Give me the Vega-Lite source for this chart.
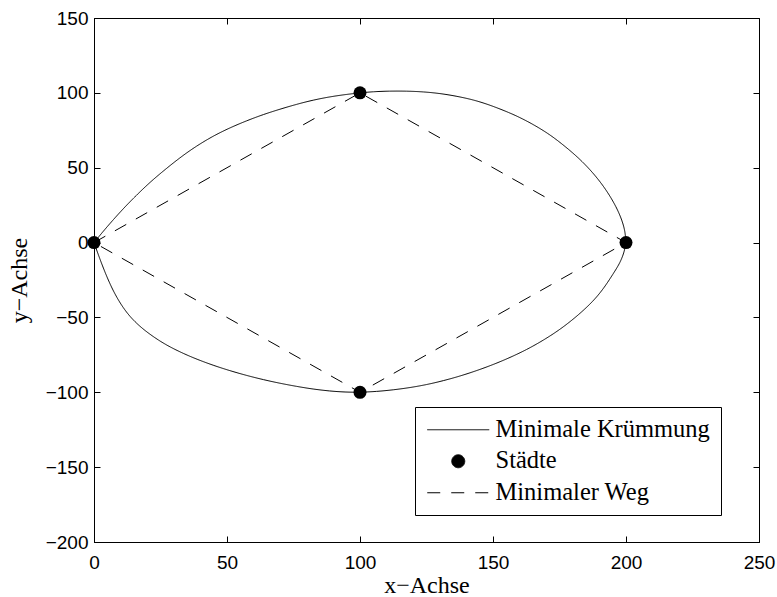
{
  "$schema": "https://vega.github.io/schema/vega-lite/v6.json",
  "autosize": {"type": "none"},
  "width": 665,
  "height": 524,
  "padding": {"left": 94, "top": 18, "right": 18, "bottom": 55},
  "background": "white",
  "config": {
    "view": {"stroke": "black", "strokeWidth": 1},
    "axis": {
      "domainColor": "black",
      "domainWidth": 1,
      "ticks": false,
      "grid": true,
      "gridColor": "black",
      "gridOpacity": 1,
      "gridWidth": 1,
      "labelColor": "black",
      "labelFont": "Liberation Sans",
      "labelFontSize": 19,
      "titleColor": "black",
      "titleFont": "Liberation Serif",
      "titleFontSize": 24,
      "titleFontWeight": "normal"
    }
  },
  "datasets": {
    "curve": [
      {"i": 0, "x": 0, "y": 0, "series": "Minimale Krümmung"},
      {"i": 1, "x": 3.5, "y": 7.6, "series": "Minimale Krümmung"},
      {"i": 2, "x": 7.3, "y": 15.4, "series": "Minimale Krümmung"},
      {"i": 3, "x": 11.6, "y": 23.8, "series": "Minimale Krümmung"},
      {"i": 4, "x": 16, "y": 31.7, "series": "Minimale Krümmung"},
      {"i": 5, "x": 20.4, "y": 39.2, "series": "Minimale Krümmung"},
      {"i": 6, "x": 24.8, "y": 46, "series": "Minimale Krümmung"},
      {"i": 7, "x": 32.3, "y": 56.8, "series": "Minimale Krümmung"},
      {"i": 8, "x": 38.6, "y": 64.6, "series": "Minimale Krümmung"},
      {"i": 9, "x": 44.8, "y": 71.2, "series": "Minimale Krümmung"},
      {"i": 10, "x": 51.1, "y": 76.7, "series": "Minimale Krümmung"},
      {"i": 11, "x": 57.4, "y": 81.4, "series": "Minimale Krümmung"},
      {"i": 12, "x": 63.7, "y": 85.6, "series": "Minimale Krümmung"},
      {"i": 13, "x": 69.9, "y": 89.1, "series": "Minimale Krümmung"},
      {"i": 14, "x": 76.2, "y": 92.4, "series": "Minimale Krümmung"},
      {"i": 15, "x": 82.4, "y": 95.2, "series": "Minimale Krümmung"},
      {"i": 16, "x": 88.7, "y": 97.4, "series": "Minimale Krümmung"},
      {"i": 17, "x": 95, "y": 99, "series": "Minimale Krümmung"},
      {"i": 18, "x": 100, "y": 100, "series": "Minimale Krümmung"},
      {"i": 19, "x": 105, "y": 100.8, "series": "Minimale Krümmung"},
      {"i": 20, "x": 111, "y": 101.2, "series": "Minimale Krümmung"},
      {"i": 21, "x": 117.6, "y": 101.2, "series": "Minimale Krümmung"},
      {"i": 22, "x": 124, "y": 100.7, "series": "Minimale Krümmung"},
      {"i": 23, "x": 130.1, "y": 99.6, "series": "Minimale Krümmung"},
      {"i": 24, "x": 136, "y": 97.9, "series": "Minimale Krümmung"},
      {"i": 25, "x": 142.6, "y": 95.4, "series": "Minimale Krümmung"},
      {"i": 26, "x": 149, "y": 91.8, "series": "Minimale Krümmung"},
      {"i": 27, "x": 156.4, "y": 86.6, "series": "Minimale Krümmung"},
      {"i": 28, "x": 161.2, "y": 82.6, "series": "Minimale Krümmung"},
      {"i": 29, "x": 165.8, "y": 78.2, "series": "Minimale Krümmung"},
      {"i": 30, "x": 170.6, "y": 73, "series": "Minimale Krümmung"},
      {"i": 31, "x": 175.2, "y": 67, "series": "Minimale Krümmung"},
      {"i": 32, "x": 182, "y": 57, "series": "Minimale Krümmung"},
      {"i": 33, "x": 187.7, "y": 46.5, "series": "Minimale Krümmung"},
      {"i": 34, "x": 192.5, "y": 35.5, "series": "Minimale Krümmung"},
      {"i": 35, "x": 196.5, "y": 23.5, "series": "Minimale Krümmung"},
      {"i": 36, "x": 198.7, "y": 14, "series": "Minimale Krümmung"},
      {"i": 37, "x": 199.7, "y": 7, "series": "Minimale Krümmung"},
      {"i": 38, "x": 200, "y": 0, "series": "Minimale Krümmung"},
      {"i": 39, "x": 199.4, "y": -6, "series": "Minimale Krümmung"},
      {"i": 40, "x": 197.8, "y": -13.5, "series": "Minimale Krümmung"},
      {"i": 41, "x": 195.2, "y": -20.8, "series": "Minimale Krümmung"},
      {"i": 42, "x": 191.8, "y": -30.2, "series": "Minimale Krümmung"},
      {"i": 43, "x": 187.7, "y": -39.2, "series": "Minimale Krümmung"},
      {"i": 44, "x": 181.6, "y": -49.2, "series": "Minimale Krümmung"},
      {"i": 45, "x": 175.2, "y": -58.1, "series": "Minimale Krümmung"},
      {"i": 46, "x": 168.9, "y": -65.3, "series": "Minimale Krümmung"},
      {"i": 47, "x": 162.7, "y": -71.5, "series": "Minimale Krümmung"},
      {"i": 48, "x": 156.4, "y": -76.8, "series": "Minimale Krümmung"},
      {"i": 49, "x": 150.1, "y": -81.5, "series": "Minimale Krümmung"},
      {"i": 50, "x": 143.8, "y": -85.6, "series": "Minimale Krümmung"},
      {"i": 51, "x": 137.6, "y": -89.2, "series": "Minimale Krümmung"},
      {"i": 52, "x": 131.3, "y": -92.3, "series": "Minimale Krümmung"},
      {"i": 53, "x": 125.1, "y": -94.9, "series": "Minimale Krümmung"},
      {"i": 54, "x": 118.8, "y": -96.9, "series": "Minimale Krümmung"},
      {"i": 55, "x": 112.5, "y": -98.4, "series": "Minimale Krümmung"},
      {"i": 56, "x": 106.2, "y": -99.5, "series": "Minimale Krümmung"},
      {"i": 57, "x": 100, "y": -100, "series": "Minimale Krümmung"},
      {"i": 58, "x": 94.4, "y": -99.9, "series": "Minimale Krümmung"},
      {"i": 59, "x": 88.7, "y": -99.2, "series": "Minimale Krümmung"},
      {"i": 60, "x": 82.4, "y": -97.9, "series": "Minimale Krümmung"},
      {"i": 61, "x": 76.2, "y": -96.1, "series": "Minimale Krümmung"},
      {"i": 62, "x": 69.9, "y": -94, "series": "Minimale Krümmung"},
      {"i": 63, "x": 63.7, "y": -91.6, "series": "Minimale Krümmung"},
      {"i": 64, "x": 57.4, "y": -88.8, "series": "Minimale Krümmung"},
      {"i": 65, "x": 51.1, "y": -85.6, "series": "Minimale Krümmung"},
      {"i": 66, "x": 44.8, "y": -82, "series": "Minimale Krümmung"},
      {"i": 67, "x": 38.6, "y": -77.9, "series": "Minimale Krümmung"},
      {"i": 68, "x": 33.6, "y": -74.1, "series": "Minimale Krümmung"},
      {"i": 69, "x": 28.6, "y": -69.8, "series": "Minimale Krümmung"},
      {"i": 70, "x": 24.2, "y": -65.2, "series": "Minimale Krümmung"},
      {"i": 71, "x": 19.8, "y": -59.7, "series": "Minimale Krümmung"},
      {"i": 72, "x": 16.5, "y": -54.8, "series": "Minimale Krümmung"},
      {"i": 73, "x": 13.5, "y": -49.4, "series": "Minimale Krümmung"},
      {"i": 74, "x": 11, "y": -43.6, "series": "Minimale Krümmung"},
      {"i": 75, "x": 8.6, "y": -36.8, "series": "Minimale Krümmung"},
      {"i": 76, "x": 6.4, "y": -29.2, "series": "Minimale Krümmung"},
      {"i": 77, "x": 4.3, "y": -20.6, "series": "Minimale Krümmung"},
      {"i": 78, "x": 2.1, "y": -10.5, "series": "Minimale Krümmung"},
      {"i": 79, "x": 0, "y": 0, "series": "Minimale Krümmung"}
    ],
    "route": [
      {"i": 0, "x": 0, "y": 0, "series": "Minimaler Weg"},
      {"i": 1, "x": 100, "y": 100, "series": "Minimaler Weg"},
      {"i": 2, "x": 200, "y": 0, "series": "Minimaler Weg"},
      {"i": 3, "x": 100, "y": -100, "series": "Minimaler Weg"},
      {"i": 4, "x": 0, "y": 0, "series": "Minimaler Weg"}
    ],
    "cities": [
      {"x": 0, "y": 0, "series": "Städte"},
      {"x": 100, "y": 100, "series": "Städte"},
      {"x": 200, "y": 0, "series": "Städte"},
      {"x": 100, "y": -100, "series": "Städte"}
    ]
  },
  "resolve": {"axis": {"x": "independent", "y": "independent"}},
  "layer": [
    {
      "data": {"name": "curve"},
      "mark": {"type": "line", "interpolate": "basis", "color": "black", "strokeWidth": 1},
      "encoding": {
        "x": {"field": "x", "type": "quantitative", "scale": {"domain": [0, 250], "nice": false, "zero": false},
              "axis": {"orient": "bottom", "title": "x−Achse", "values": [0, 50, 100, 150, 200, 250], "gridDash": [6, 512, 6, 2000], "labelPadding": 11, "titlePadding": 1, "labelFlush": false, "labelOverlap": false}},
        "y": {"field": "y", "type": "quantitative", "scale": {"domain": [-200, 150], "nice": false, "zero": false},
              "axis": {"orient": "left", "title": "y−Achse", "values": [-200, -150, -100, -50, 0, 50, 100, 150], "gridDash": [6, 653, 6, 2000], "labelPadding": 6, "titlePadding": 14, "labelFlush": false, "labelOverlap": false}},
        "order": {"field": "i", "type": "quantitative"},
        "strokeDash": {"field": "series", "type": "nominal",
          "scale": {"domain": ["Minimale Krümmung", "Städte", "Minimaler Weg"], "range": [[1, 0], [1, 0], [13, 11]]},
          "legend": {"title": null, "orient": "none", "legendX": 321, "legendY": 389, "strokeColor": "black", "fillColor": "white", "padding": 10.5,
            "labelFont": "Liberation Serif", "labelFontSize": 24.5, "labelColor": "black", "labelLimit": 400,
            "symbolSize": 169, "symbolStrokeWidth": 1, "symbolOffset": 20.5, "labelOffset": 25, "rowPadding": 6.5,
            "symbolFillColor": "black", "symbolStrokeColor": "black",
            "encode": {"symbols": {"update": {"fill": {"value": "black"}, "stroke": {"value": "black"}, "strokeWidth": {"value": 1}}}}}
        }
      }
    },
    {
      "data": {"name": "route"},
      "mark": {"type": "line", "color": "black", "strokeWidth": 1},
      "encoding": {
        "x": {"field": "x", "type": "quantitative", "scale": {"domain": [0, 250], "nice": false, "zero": false}, "axis": null},
        "y": {"field": "y", "type": "quantitative", "scale": {"domain": [-200, 150], "nice": false, "zero": false}, "axis": null},
        "order": {"field": "i", "type": "quantitative"},
        "strokeDash": {"field": "series", "type": "nominal",
          "scale": {"domain": ["Minimale Krümmung", "Städte", "Minimaler Weg"], "range": [[1, 0], [1, 0], [13, 11]]}}
      }
    },
    {
      "data": {"name": "cities"},
      "mark": {"type": "point", "filled": true, "color": "black", "opacity": 1, "size": 169},
      "encoding": {
        "x": {"field": "x", "type": "quantitative", "axis": null},
        "y": {"field": "y", "type": "quantitative", "axis": null},
        "shape": {"field": "series", "type": "nominal",
          "scale": {"domain": ["Minimale Krümmung", "Städte", "Minimaler Weg"], "range": ["M-4.77,0L4.77,0", "circle", "M-4.77,0L4.77,0"]},
          "legend": {"title": null, "orient": "none", "legendX": 321, "legendY": 389, "strokeColor": "black", "fillColor": "white", "padding": 10.5,
            "labelFont": "Liberation Serif", "labelFontSize": 24.5, "labelColor": "black", "labelLimit": 400,
            "symbolSize": 169, "symbolStrokeWidth": 1, "symbolOffset": 20.5, "labelOffset": 25, "rowPadding": 6.5,
            "symbolFillColor": "black", "symbolStrokeColor": "black",
            "encode": {"symbols": {"update": {"fill": {"value": "black"}, "stroke": {"value": "black"}, "strokeWidth": {"value": 1}}}}}
        }
      }
    }
  ]
}
